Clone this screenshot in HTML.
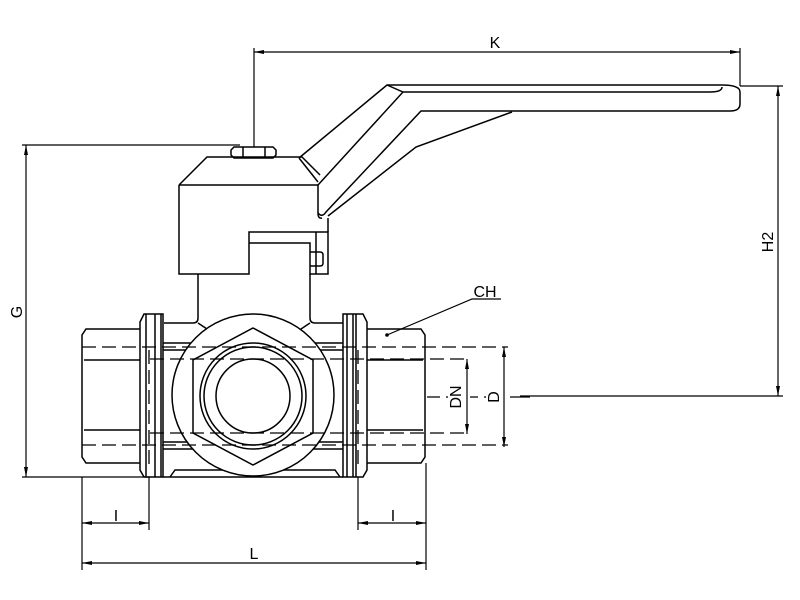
<!DOCTYPE html>
<html><head><meta charset="utf-8"><style>html,body{margin:0;padding:0;background:#fff}svg{display:block}</style></head>
<body>
<svg width="800" height="600" viewBox="0 0 800 600" xmlns="http://www.w3.org/2000/svg" font-family="Liberation Sans, sans-serif">
<defs>
<marker id="a" viewBox="0 0 10 6" refX="10" refY="3" markerWidth="10" markerHeight="6" orient="auto-start-reverse" markerUnits="userSpaceOnUse"><path d="M0,1 L10,3 L0,5z" fill="#000"/></marker>
</defs>
<g fill="none" stroke="#000" stroke-width="1.5">
<!-- nut -->
<path d="M234,147 H273 L276,150 V155 L273,158 H234 L231,155 V150Z"/>
<path d="M243,147 V158 M265,147 V158"/>
<!-- actuator head -->
<path d="M179,185 L207,157 H302 L320,175"/>
<path d="M179,185 H318 M179,185 V274 H249 V232 H328 V274 H310 V243 H249"/>
<path d="M316,232 V274 M310,252 H320 Q323,252 323,255 V263 Q323,266 320,266 H310"/>
<path d="M318,185 V213 Q318,219 322,218"/>
<path d="M328,218 V232"/>
<!-- handle -->
<path d="M299,158 L387,85 H722 Q740,85 740,92 V104 Q740,111 730,111 H421 L326,212 Q322,218 318,213"/>
<path d="M387,85 L403,92 H710 Q722,92 722,87"/>
<path d="M403,92 L318,185"/>
<path d="M299,158 L318,182"/>
<path d="M512,112 L416,147 L328,216"/>
<!-- neck -->
<path d="M198,274 V318 Q198,323 193,323 H164 M310,274 V318 Q310,323 315,323 H343"/>
<path d="M198,323 L210,331 M310,323 L298,331"/>
<!-- central body -->
<path d="M163,343 H343 M163,350 H343 M163,442 H343 M163,449 H343 M163,477 H343"/>
<path d="M170,477 L175,470 H335 L340,477"/>
<!-- left flange -->
<path d="M140,322 L144,314 H163 V477 H144 L140,470 Z"/>
<path d="M146,314 V477 M155,314 V477 M161,314 V477"/>
<!-- right flange -->
<path d="M343,314 H363 L367,322 V470 L363,477 H343 Z"/>
<path d="M347,314 V477 M353,314 V477 M356,314 V477"/>
<!-- left end -->
<path d="M140,329 H86 L82,335 V457 L86,463 H140"/>
<path d="M84,360 H140 M84,430 H140"/>
<!-- right end -->
<path d="M367,329 H421 L425,335 V457 L421,463 H367"/>
<path d="M367,360 H423 M367,430 H423"/>
<!-- ball/hex -->
<circle cx="253" cy="395" r="81" fill="#fff"/>
<path d="M253,328 L313,360 V433 L253,465 L193,433 V360 Z"/>
<circle cx="253" cy="396" r="53"/>
<circle cx="253" cy="396" r="49"/>
<circle cx="253" cy="396" r="37"/>
</g>
<!-- dashed -->
<g fill="none" stroke="#000" stroke-width="1.3" stroke-dasharray="14,6">
<path d="M82,347 H508 M82,445 H508"/>
<path d="M150,359 H470 M150,433 H470"/>
<path d="M149,350 V470 M358,350 V470"/>
</g>
<path d="M427,397 H440 M446,397 H448 M470,397 H478 M484,397 H486 M510,397 H530" stroke="#000" stroke-width="1.2"/>
<!-- dims -->
<g fill="none" stroke="#000" stroke-width="1.2">
<path d="M22,145 H240 M22,477 H150"/>
<path d="M26,145 V477" marker-start="url(#a)" marker-end="url(#a)"/>
<path d="M254,48 V147 M740,48 V86"/>
<path d="M254,52 H740" marker-start="url(#a)" marker-end="url(#a)"/>
<path d="M740,86 H783 M520,396 H783"/>
<path d="M778,86 V396" marker-start="url(#a)" marker-end="url(#a)"/>
<path d="M467,359 V434" marker-start="url(#a)" marker-end="url(#a)"/>
<path d="M504,347 V447" marker-start="url(#a)" marker-end="url(#a)"/>
<path d="M82,477 V570 M149,477 V530 M358,477 V530 M426,463 V570"/>
<path d="M82,523 H149" marker-start="url(#a)" marker-end="url(#a)"/>
<path d="M358,523 H426" marker-start="url(#a)" marker-end="url(#a)"/>
<path d="M82,563 H426" marker-start="url(#a)" marker-end="url(#a)"/>
<path d="M501,299 H472 L387,335"/>
</g>
<circle cx="387" cy="335" r="1.8"/>
<g font-size="16" fill="#000" text-anchor="middle">
<text x="495" y="48">K</text>
<text x="485" y="297">CH</text>
<text x="254" y="559">L</text>
<text x="116" y="521">I</text>
<text x="393" y="521">I</text>
<text transform="translate(22,312) rotate(-90)">G</text>
<text transform="translate(773,242) rotate(-90)">H2</text>
<text transform="translate(461,397) rotate(-90)">DN</text>
<text transform="translate(499,397) rotate(-90)">D</text>
</g>
</svg>
</body></html>
